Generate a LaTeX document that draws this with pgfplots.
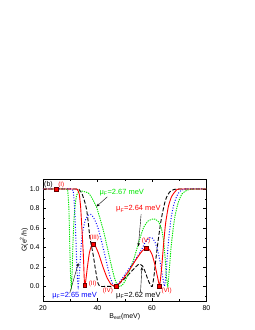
\documentclass[border=0pt]{standalone}
\usepackage{pgfplots}
\pgfplotsset{compat=1.18}
\usepackage{fontspec}
\setmainfont{Liberation Sans}
\usetikzlibrary{arrows.meta}
\definecolor{myred}{RGB}{255,0,0}
\definecolor{mygreen}{RGB}{0,230,0}
\definecolor{myblue}{RGB}{0,0,255}
\begin{document}
\begin{tikzpicture}[x=1bp,y=1bp]
\useasboundingbox (0,0) rectangle (255,330);
\begin{axis}[
  at={(43bp,29bp)}, anchor=south west,
  width=163.5bp, height=121.7bp, scale only axis,
  xmin=20, xmax=80, ymin=-0.15, ymax=1.1,
  xtick={20,40,60,80}, minor xtick={30,50,70},
  ytick={0,0.2,0.4,0.6,0.8,1.0}, minor ytick={-0.1,0.1,0.3,0.5,0.7,0.9},
  major tick length=3bp, minor tick length=1.8bp,
  tick style={black, line width=0.4pt},
  axis line style={line width=0.5pt},
  /pgf/number format/assume math mode=true,
  yticklabel style={/pgf/number format/fixed, /pgf/number format/fixed zerofill, /pgf/number format/precision=1},
  ticklabel style={font=\fontsize{7}{8}\selectfont},
  xticklabel style={yshift=-1bp},
  xlabel={B\textsubscript{ext}(meV)},
  ylabel={G(e\textsuperscript{2}/h)},
  label style={font=\fontsize{7}{8}\selectfont},
  xlabel style={yshift=4bp},
  ylabel style={yshift=-5bp},
  clip=false,
]
% black dashed mu=2.62
\addplot[black, line width=0.9pt, dash pattern=on 4pt off 2pt, smooth, tension=0.3] coordinates {
(20,1.0)(32.5,1.0)(33.3,0.99)(34.2,0.96)(35.2,0.88)(36,0.79)(36.6,0.66)(37.2,0.5)(37.9,0.4)(38.5,0.31)(39.1,0.2)(39.7,0.1)(40.2,0.03)(41,0.0)(43,0.0)(45,0.0)(46.5,0.01)(48,0.03)(50,0.08)(52,0.14)(54,0.2)(55.3,0.23)(56.5,0.21)(57.5,0.15)(58.5,0.07)(59.5,0.01)(60.1,0.0)(60.7,0.1)(61.5,0.3)(62.3,0.48)(63,0.62)(63.6,0.72)(64.6,0.85)(65.4,0.92)(66.5,0.97)(68,0.995)(70,1.0)(80,1.0)};
% green mu=2.67
\addplot[mygreen, line width=0.9pt, dash pattern=on 1.3pt off 1pt, smooth, tension=0.3] coordinates {
(20,1.0)(28.5,1.0)(29.1,0.97)(29.5,0.8)(29.8,0.45)(30.1,0.12)(30.4,0.0)(30.7,0.15)(31.0,0.45)(31.4,0.7)(31.9,0.86)(32.4,0.94)(33.5,0.98)(35,0.975)(36.6,0.96)(37.5,0.93)(38.5,0.88)(39.7,0.81)(41,0.69)(42,0.59)(42.8,0.5)(44,0.35)(45.2,0.2)(46.2,0.09)(47,0.03)(48,0.0)(49,0.01)(50,0.05)(51,0.11)(52,0.18)(53.2,0.27)(54.5,0.39)(56,0.53)(57,0.61)(58.5,0.67)(60,0.69)(61.2,0.69)(62.5,0.66)(63.5,0.59)(64.2,0.48)(64.8,0.3)(65.3,0.1)(65.8,0.0)(66.3,0.15)(67,0.4)(67.8,0.6)(68.5,0.73)(69.6,0.86)(71,0.95)(73,0.99)(75,1.0)(80,1.0)};
% blue dotted mu=2.65
\addplot[myblue, line width=1pt, dash pattern=on 0.9pt off 1.8pt, smooth, tension=0.3] coordinates {
(20,1.0)(30.5,1.0)(31.2,0.95)(31.7,0.75)(32.1,0.46)(32.5,0.15)(32.9,0.0)(33.4,0.15)(33.9,0.38)(34.5,0.55)(35.4,0.67)(36.5,0.73)(37.5,0.74)(38.5,0.71)(39.5,0.65)(40.3,0.59)(41.5,0.46)(42.8,0.31)(43.7,0.2)(44.6,0.1)(45.5,0.03)(46.5,0.0)(48,0.04)(50,0.12)(52,0.2)(54,0.28)(56,0.37)(57.5,0.45)(59,0.5)(60,0.5)(61,0.46)(62,0.38)(63,0.25)(64,0.08)(64.6,0.0)(65.2,0.15)(66,0.45)(67,0.7)(68,0.84)(69,0.92)(70,0.97)(72,1.0)(80,1.0)};
% red solid mu=2.64
\addplot[myred, line width=0.9pt, smooth, tension=0.3] coordinates {
(20,1.0)(32,1.0)(32.7,0.99)(33.3,0.95)(33.8,0.82)(34.2,0.63)(34.8,0.33)(35.1,0.1)(35.3,0.01)(35.7,0.06)(36.3,0.2)(37,0.34)(37.7,0.41)(38.5,0.43)(39.3,0.41)(40.5,0.33)(42,0.2)(43.5,0.09)(45,0.02)(46.6,0.0)(48,0.03)(50,0.1)(52,0.18)(54,0.27)(56,0.35)(57,0.38)(58,0.395)(59,0.38)(60,0.33)(61,0.23)(62,0.1)(62.8,0.01)(63.5,0.18)(64.3,0.45)(65,0.65)(66,0.82)(67,0.91)(67.8,0.95)(69,0.99)(70,1.0)(80,1.0)};
% markers
\addplot[only marks, mark=square*, mark size=2pt, mark options={fill=myred, draw=black!60!red, line width=0.4pt}] coordinates {
(25,1.0)(35.3,0.01)(38.5,0.43)(46.7,0.0)(58,0.395)(62.8,0.0)};
% roman labels
\begin{scope}[every node/.style={font=\fontsize{6.3}{7}\selectfont, text=myred, inner sep=0pt}]
\node at (axis cs:26.7,1.045) {(I)};
\node at (axis cs:38.2,0.025) {(II)};
\node at (axis cs:38.8,0.495) {(III)};
\node at (axis cs:43.8,-0.045) {(IV)};
\node at (axis cs:57.8,0.47) {(V)};
\node at (axis cs:65.4,-0.045) {(VI)};
\end{scope}
\node[font=\fontsize{7}{8}\selectfont, inner sep=0pt] at (axis cs:22.0,1.045) {(b)};
% annotations
\begin{scope}[every node/.style={font=\fontsize{7.5}{8}\selectfont, inner sep=0pt}]
\node[text=mygreen] at (axis cs:48.9,0.965) {μ\textsubscript{F}=2.67 meV};
\node[text=myred] at (axis cs:55.0,0.795) {μ\textsubscript{F}=2.64 meV};
\node[text=myblue] at (axis cs:31.6,-0.096) {μ\textsubscript{F}=2.65 meV};
\node[text=black] at (axis cs:55.0,-0.096) {μ\textsubscript{F}=2.62 meV};
\end{scope}
\begin{scope}[line width=0.4pt, -{Stealth[length=3.5pt,width=2.5pt]}]
\draw (axis cs:43.6,0.92) -- (axis cs:39.6,0.82);
\draw (axis cs:56.0,0.74) -- (axis cs:55.0,0.41);
\draw (axis cs:29.8,-0.07) -- (axis cs:33.0,0.24);
\draw (axis cs:55.8,-0.06) -- (axis cs:56.3,0.2);
\end{scope}
\end{axis}
\end{tikzpicture}
\end{document}
